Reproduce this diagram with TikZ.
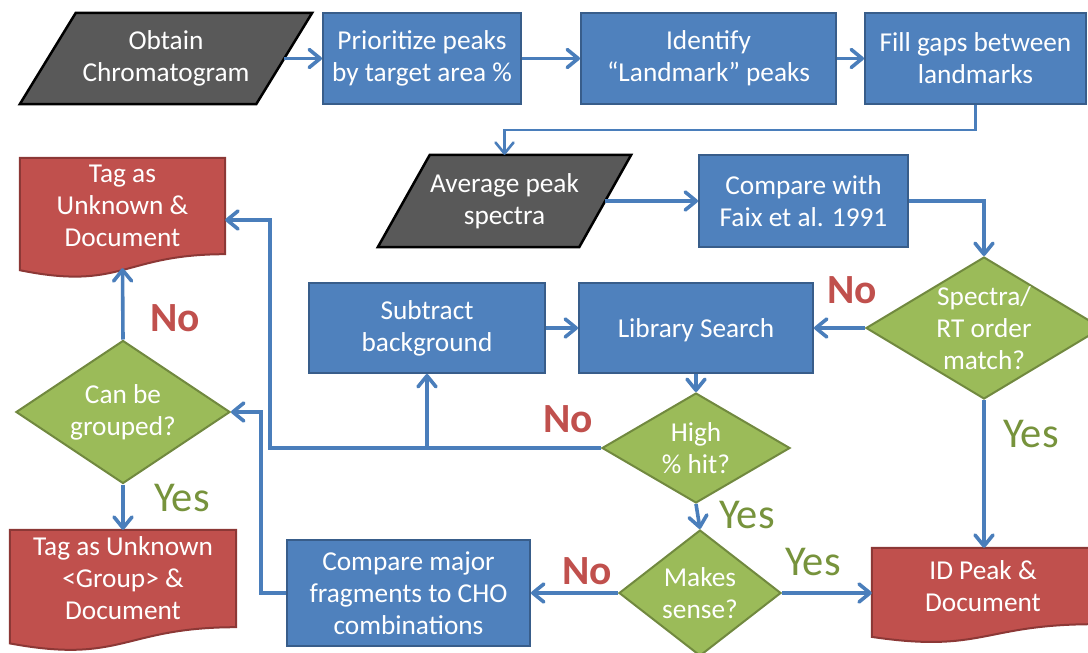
\documentclass[tikz,border=0pt]{standalone}
\usepackage{fontspec}
\setmainfont{Carlito}
\usetikzlibrary{arrows.meta,shapes.geometric,calc,backgrounds}
\definecolor{bfill}{HTML}{4F81BD}
\definecolor{bline}{HTML}{385D8A}
\definecolor{rfill}{HTML}{C0504D}
\definecolor{rline}{HTML}{8C3836}
\definecolor{gfill}{HTML}{9BBB59}
\definecolor{gline}{HTML}{71893F}
\definecolor{dfill}{HTML}{595959}
\definecolor{nocol}{HTML}{C0504D}
\definecolor{yescol}{HTML}{77933C}
\definecolor{conncol}{HTML}{4A7EBB}
\newcommand\mydoc[3]{\draw[docsty] (#1.north west) -- (#1.north east) -- (#1.south east) .. controls (#1.south) and ([yshift=-#2]#1.south) .. ([yshift=-#3]#1.south west) -- cycle;}
\newcommand\mypara[2]{\draw[parasty] ([xshift=-#2]#1.south west) -- ([xshift=-#2]#1.south east) -- ([xshift=#2]#1.north east) -- ([xshift=#2]#1.north west) -- cycle;}
\begin{document}
\begin{tikzpicture}[x=1pt,y=-1pt,
  txt/.style={text=white,font=\fontsize{27.3}{32}\selectfont,align=center,inner sep=0pt,execute at begin node={\rule{0pt}{23pt}}},
  proc/.style={txt,rectangle,draw=bline,fill=bfill,line width=2pt},
  plain/.style={txt,rectangle,draw=none},
  dec/.style={diamond,draw=gline,fill=gfill,line width=2pt,inner sep=0pt},
  dectxt/.style={txt},
  docsty/.style={draw=rline,fill=rfill,line width=2pt},
  parasty/.style={draw=black,fill=dfill,line width=2.5pt,line join=miter},
  conn/.style={draw=conncol,line width=3.6pt,-{Straight Barb[length=11pt,width=18pt,line cap=round,line join=round]}},
  nolbl/.style={text=nocol,font=\bfseries\fontsize{41.5}{44}\selectfont,inner sep=0pt},
  yeslbl/.style={text=yescol,font=\fontsize{42.5}{44}\selectfont,inner sep=0pt}
]
\useasboundingbox (0,0) rectangle (1088,653);
\clip (0,0) rectangle (1088,653);

% top row
\node[plain,minimum width=236,minimum height=91] (obtain) at (166,58.5) {Obtain\\Chromatogram};
\node[proc,minimum width=198,minimum height=91] (prio) at (422,58.5) {Prioritize peaks\\by target area \%};
\node[proc,minimum width=255,minimum height=91] (ident) at (708.5,58.5) {Identify\\“Landmark” peaks};
\node[proc,minimum width=221,minimum height=91] (fill) at (975.5,58.5) {Fill gaps between\\landmarks};

% second row
\node[plain,minimum width=201,minimum height=92] (avg) at (504.5,201) {Average peak\\spectra};
\node[proc,minimum width=209,minimum height=92] (compare) at (803.5,201) {Compare with\\Faix et al. 1991};
\node[plain,minimum width=205,minimum height=96] (tagunk) at (122.5,206) {Tag as\\Unknown \&\\Document};

% middle
\node[proc,minimum width=236,minimum height=90] (subtract) at (427,328) {Subtract\\background};
\node[proc,minimum width=234,minimum height=90] (library) at (696,328) {Library Search};
\node[dec,minimum width=236,minimum height=142,label={[dectxt]center:Spectra/\\RT order\\match?}] (spectra) at (984,328) {};
\node[dec,minimum width=188,minimum height=110,label={[dectxt]center:High\\\% hit?}] (high) at (696,448) {};
\node[dec,minimum width=214,minimum height=143,label={[dectxt]center:Can be\\grouped?}] (grouped) at (123,412) {};

% bottom
\node[dec,minimum width=162,minimum height=126,label={[dectxt]center:Makes\\sense?}] (makes) at (700,593) {};
\node[proc,minimum width=243,minimum height=106] (cmajor) at (408.5,593) {Compare major\\fragments to CHO\\combinations};
\node[plain,minimum width=222,minimum height=76] (idpeak) at (983,586) {ID Peak \&\\Document};
\node[plain,minimum width=226,minimum height=97] (taggroup) at (123,578.5) {Tag as Unknown\\<Group> \&\\Document};

\begin{pgfonlayer}{background}
\mypara{obtain}{28pt}
\mypara{avg}{26pt}
\mydoc{tagunk}{36.9pt}{16pt}
\mydoc{taggroup}{37.2pt}{16.2pt}
\mydoc{idpeak}{29.2pt}{12.7pt}
\end{pgfonlayer}

% connectors
\draw[conn] (obtain.east) -- (prio.west);
\draw[conn] (prio.east) -- (ident.west);
\draw[conn] (ident.east) -- (fill.west);
\draw[conn,line width=2.6pt] (fill.south) -- ++(0,25) -| (avg.north);
\draw[conn] (avg.east) -- (compare.west);
\draw[conn] (compare.east) -| (spectra.north);
\draw[conn] (spectra.west) -- (library.east);
\draw[conn] (subtract.east) -- (library.west);
\draw[conn] (library.south) -- (high.north);
\coordinate (c1) at (270,448);
\draw[conn] (high.west) -- (c1) |- ([yshift=-14pt]tagunk.east);
\draw[conn] (high.west) -| (subtract.south);
\draw[conn] (high.south) -- (makes.north);
\draw[conn] (makes.east) -- (makes.east -| idpeak.west);
\draw[conn] (makes.west) -- (cmajor.east);
\draw[conn] (spectra.south) -- (spectra.south |- idpeak.north);
\draw[conn] (cmajor.west) -- ++(-25,0) |- (grouped.east);
\draw[conn] (grouped.north) -- ([yshift=-14pt]tagunk.south);
\draw[conn] (grouped.south) -- (taggroup.north);

% labels
\node[nolbl] (no1) at (852,290) {No};
\node[nolbl] (no2) at (568,419) {No};
\node[nolbl] (no3) at (587,571) {No};
\node[nolbl] (no4) at (175,318) {No};
\node[yeslbl] (yes1) at (1031,434) {Yes};
\node[yeslbl] (yes2) at (747,515) {Yes};
\node[yeslbl] (yes3) at (813,562) {Yes};
\node[yeslbl] (yes4) at (182,498) {Yes};
\end{tikzpicture}
\end{document}
